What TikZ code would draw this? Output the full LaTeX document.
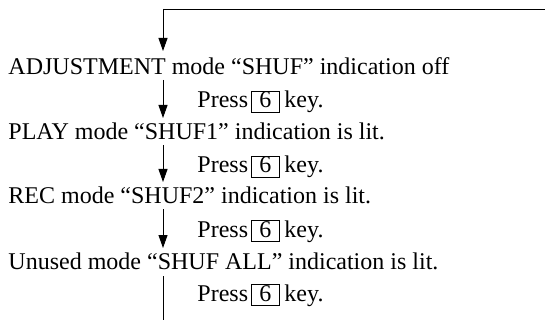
\documentclass[tikz,border=0pt]{standalone}
\usepackage{fontspec}
\setmainfont{Liberation Serif}
\usetikzlibrary{arrows.meta}
\begin{document}
\begin{tikzpicture}[x=1pt,y=1pt,
  line width=0.9pt,
  txt/.style={inner sep=0pt,anchor=base west,font=\fontsize{24}{28}\selectfont},
  keybox/.style={draw,line width=0.8pt,inner sep=0pt,anchor=base west,text height=16.5pt,text depth=4.5pt,minimum width=28pt,font=\fontsize{24}{28}\selectfont},
  flow/.style={-{Triangle[length=13pt,width=9pt]}}]
\useasboundingbox (0,0) rectangle (545,-320);
% state lines
\node[txt] (s1) at (8,-75)  {ADJUSTMENT mode “SHUF” indication off};
\node[txt] (s2) at (8,-140) {PLAY mode “SHUF1” indication is lit.};
\node[txt] (s3) at (8,-204) {REC mode “SHUF2” indication is lit.};
\node[txt] (s4) at (8,-269) {Unused mode “SHUF ALL” indication is lit.};
% press lines
\foreach \i/\y in {1/-108,2/-173,3/-237,4/-301}{
  \node[txt] (p\i) at (197,\y) {Press};
  \node[keybox] (k\i) at (251,\y) {6};
  \node[txt] (e\i) at (284,\y) {key.};
}
% connector points
\coordinate (r0) at (545,-9);
\coordinate (t0) at (163,-9);
\coordinate (a1) at (163,-51);
\coordinate (b1) at (163,-80);
\coordinate (a2) at (163,-118);
\coordinate (b2) at (163,-145);
\coordinate (a3) at (163,-182);
\coordinate (b3) at (163,-209);
\coordinate (a4) at (163,-248);
\coordinate (b4) at (163,-276);
\coordinate (end) at (163,-320);
\draw (r0) -- (t0);
\draw[flow] (t0) -- (a1);
\draw[flow] (b1) -- (a2);
\draw[flow] (b2) -- (a3);
\draw[flow] (b3) -- (a4);
\draw (b4) -- (end);
\end{tikzpicture}
\end{document}
